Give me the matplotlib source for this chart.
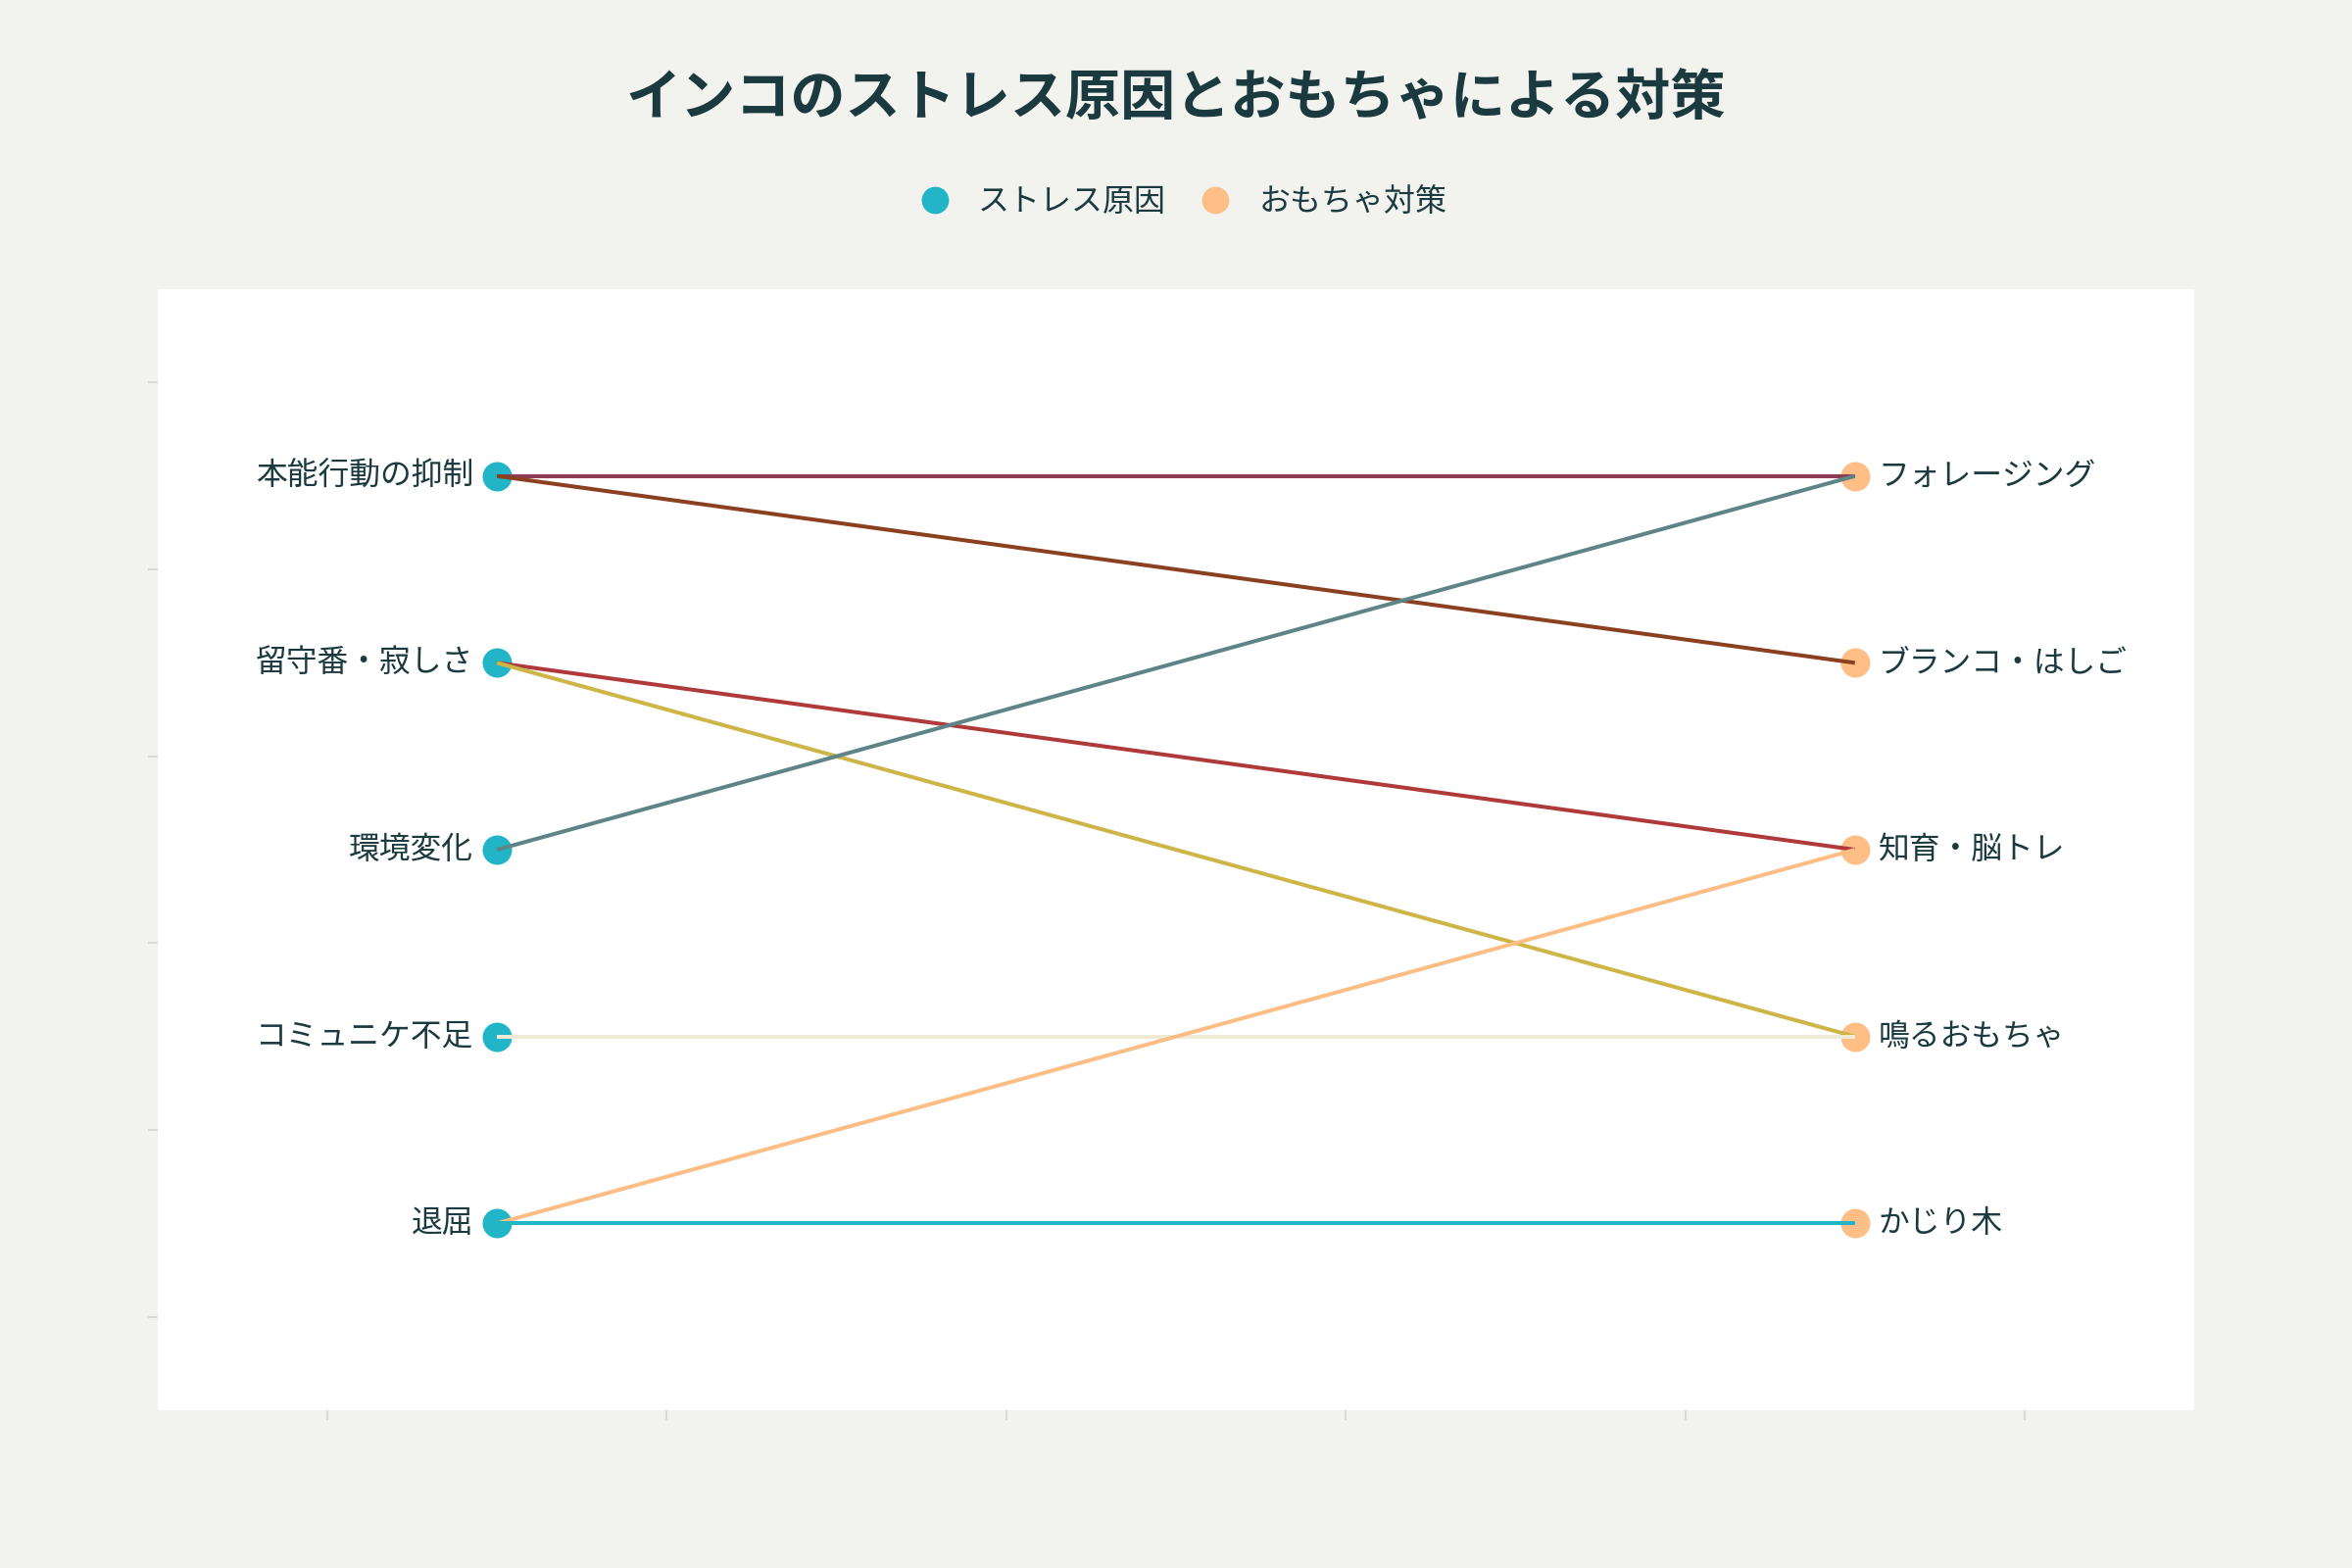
import matplotlib
matplotlib.use("Agg")
import matplotlib.pyplot as plt
from matplotlib.lines import Line2D

plt.rcParams['font.family'] = ['Noto Sans CJK JP', 'DejaVu Sans']

# ---- data ----
title = "インコのストレス原因とおもちゃによる対策"
legend_labels = ["ストレス原因", "おもちゃ対策"]
causes = ["本能行動の抑制", "留守番・寂しさ", "環境変化", "コミュニケ不足", "退屈"]
toys = ["フォレージング", "ブランコ・はしご", "知育・脳トレ", "鳴るおもちゃ", "かじり木"]
link_cause = ["本能行動の抑制", "本能行動の抑制", "留守番・寂しさ", "留守番・寂しさ",
              "環境変化", "コミュニケ不足", "退屈", "退屈"]
link_toy = ["フォレージング", "ブランコ・はしご", "知育・脳トレ", "鳴るおもちゃ",
            "フォレージング", "鳴るおもちゃ", "知育・脳トレ", "かじり木"]
link_colors = ["#8E3B55", "#8B4020", "#B03A3A", "#CDB548",
               "#5E8487", "#EDEBD6", "#FDBE86", "#22B5C8"]

cause_color = "#22B5C8"
toy_color = "#FDBF85"
text_color = "#1B3A3F"
bg_color = "#F2F2EE"

# ---- figure ----
fig = plt.figure(figsize=(12, 8), dpi=200, facecolor=bg_color)
ax = fig.add_axes([0.067, 0.1006, 0.866, 0.715])
ax.set_facecolor("white")

n = len(causes)
cause_y = {c: n - 1 - i for i, c in enumerate(causes)}
toy_y = {t: n - 1 - i for i, t in enumerate(toys)}
x_left, x_right = 0.0, 1.0

ms = 10.8
ax.scatter([x_left] * n, [cause_y[c] for c in causes], s=ms ** 2, color=cause_color,
           zorder=2, linewidths=0)
ax.scatter([x_right] * n, [toy_y[t] for t in toys], s=ms ** 2, color=toy_color,
           zorder=2, linewidths=0)

for c, t, col in zip(link_cause, link_toy, link_colors):
    ax.plot([x_left, x_right], [cause_y[c], toy_y[t]], color=col, lw=1.45,
            zorder=3, solid_capstyle='butt')

for c in causes:
    ax.annotate(c, (x_left, cause_y[c]), xytext=(-8.6, 0), textcoords='offset points',
                ha='right', va='center', fontsize=11.45, color=text_color)
for t in toys:
    ax.annotate(t, (x_right, toy_y[t]), xytext=(8.6, 0), textcoords='offset points',
                ha='left', va='center', fontsize=11.45, color=text_color)

ax.set_xlim(-0.25, 1.25)
ax.set_ylim(-1, n)
ax.set_xticks([-0.125 + 0.25 * k for k in range(6)])
ax.set_yticks([-0.5 + k for k in range(n + 1)])
ax.set_xticklabels([])
ax.set_yticklabels([])
ax.tick_params(length=3.6, width=0.6, color="#D5D5D5", direction='out', pad=0)
for s in ax.spines.values():
    s.set_visible(False)

fig.text(0.5, 0.937, title, ha='center', va='center', fontsize=20.2, fontweight='bold',
         color=text_color)

handles = [Line2D([], [], marker='o', linestyle='none', markersize=10, color=cause_color,
                  markeredgewidth=0),
           Line2D([], [], marker='o', linestyle='none', markersize=10, color=toy_color,
                  markeredgewidth=0)]
leg = fig.legend(handles, legend_labels, loc='center', bbox_to_anchor=(0.503, 0.871),
                 ncol=2, frameon=False, fontsize=11.5, handlelength=1.0,
                 handletextpad=0.87, columnspacing=1.08)
for txt in leg.get_texts():
    txt.set_color(text_color)

fig.savefig("out.png", dpi=200, facecolor=bg_color)
